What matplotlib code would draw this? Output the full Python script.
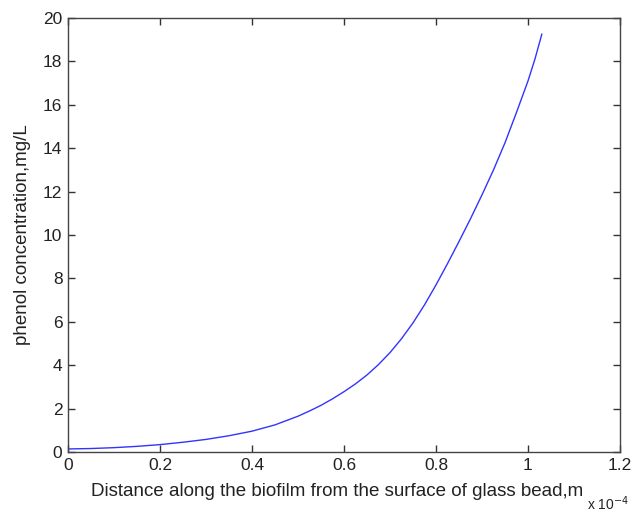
import matplotlib
matplotlib.use("Agg")
import matplotlib.pyplot as plt
from matplotlib.ticker import FuncFormatter

# Distance (x 1e-4 m) and phenol concentration (mg/L)
distance = [0.0, 0.05, 0.10, 0.15, 0.20, 0.25, 0.30, 0.35, 0.40, 0.45, 0.50,
            0.525, 0.55, 0.575, 0.60, 0.625, 0.65, 0.675, 0.70, 0.725, 0.75,
            0.775, 0.80, 0.825, 0.85, 0.875, 0.90, 0.925, 0.95, 0.975, 1.00,
            1.015, 1.03]
concentration = [0.14, 0.16, 0.20, 0.26, 0.34, 0.45, 0.58, 0.75, 0.96, 1.25, 1.65,
                 1.89, 2.15, 2.45, 2.78, 3.14, 3.55, 4.03, 4.58, 5.22, 5.95,
                 6.78, 7.70, 8.68, 9.70, 10.75, 11.85, 13.0, 14.25, 15.65, 17.1,
                 18.1, 19.25]
xticks = [0, 0.2, 0.4, 0.6, 0.8, 1.0, 1.2]
yticks = [0, 2, 4, 6, 8, 10, 12, 14, 16, 18, 20]

plt.rcParams['font.family'] = ['Liberation Sans', 'DejaVu Sans']

fig = plt.figure(figsize=(6.33, 5.13), dpi=100)
ax = fig.add_axes([68/633, 61/513, 552/633, 434/513])
ax.plot(distance, concentration, color=(0.2, 0.2, 1.0), lw=1.0)
ax.set_xlim(0, 1.2)
ax.set_ylim(0, 20)
ax.set_xticks(xticks)
ax.set_yticks(yticks)
fmt = FuncFormatter(lambda v, p: '%g' % round(v, 3))
ax.xaxis.set_major_formatter(fmt)
ax.yaxis.set_major_formatter(fmt)
ax.tick_params(direction='in', length=5, width=1, color='#333333',
               labelsize=12.5, labelcolor='#222222', top=True, right=True, pad=4)
for s in ax.spines.values():
    s.set_color('#444444')
    s.set_linewidth(1.0)
ax.set_xlabel('Distance along the biofilm from the surface of glass bead,m',
              fontsize=13.5, color='#222222', labelpad=8)
ax.xaxis.set_label_coords((337.5 - 68) / 552, -0.072)
ax.set_ylabel('phenol concentration,mg/L', fontsize=13.5, color='#222222', labelpad=9)
fig.text(587/633, 3/513, 'x 10$^{-4}$', fontsize=10, color='#222222',
         va='baseline', ha='left')
fig.savefig('out.png', dpi=100, facecolor='white')
